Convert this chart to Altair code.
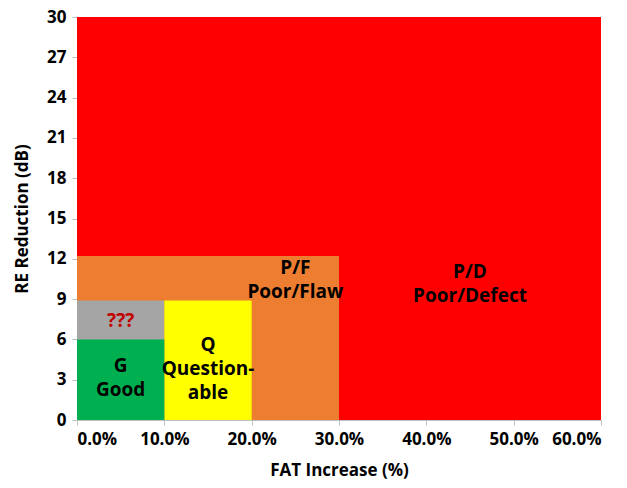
import altair as alt
import pandas as pd

zones = ["P/D", "P/F", "???", "Q", "G"]
x_start = [0, 0, 0, 10, 0]
x_end = [60, 30, 10, 20, 10]
y_start = [0, 0, 0, 0, 0]
y_end = [30, 12.2, 8.9, 8.9, 6]
colors = ["#FF0000", "#ED7D31", "#A5A5A5", "#FFFF00", "#00B050"]

label_text = ["P/D\nPoor/Defect", "P/F\nPoor/Flaw", "???", "Q\nQuestion-\nable", "G\nGood"]
label_x = [45, 25, 5, 15, 5]
label_y = [11.0, 11.3, 7.4, 5.6, 4.0]
label_color = ["#000000", "#000000", "#C00000", "#000000", "#000000"]

rects = pd.DataFrame({"zone": zones, "x": x_start, "x2": x_end, "y": y_start, "y2": y_end, "color": colors})
labels = pd.DataFrame({"text": label_text, "x": label_x, "y": label_y, "color": label_color})

FONT = "Open Sans"

xscale = alt.Scale(domain=[0, 60], nice=False)
yscale = alt.Scale(domain=[0, 30], nice=False)

base_rect = alt.Chart(rects).mark_rect().encode(
    x=alt.X("x:Q", scale=xscale, title="FAT Increase (%)",
            axis=alt.Axis(values=[0, 10, 20, 30, 40, 50, 60], labelExpr="format(datum.value/100, '.1%')",
                          titlePadding=15)),
    x2="x2:Q",
    y=alt.Y("y:Q", scale=yscale, title="RE Reduction (dB)",
            axis=alt.Axis(values=list(range(0, 31, 3)), titlePadding=15)),
    y2="y2:Q",
    color=alt.Color("color:N", scale=None),
)

text = alt.Chart(labels).mark_text(
    fontSize=19, fontWeight="bold", font=FONT, lineHeight=24, baseline="middle", align="center",
    lineBreak="\n"
).encode(
    x=alt.X("x:Q", scale=xscale),
    y=alt.Y("y:Q", scale=yscale),
    text="text:N",
    color=alt.Color("color:N", scale=None),
)

chart = alt.layer(base_rect, text).properties(
    width=524, height=403,
    autosize=alt.AutoSizeParams(type="none"),
    padding={"left": 69, "top": 9, "right": 10, "bottom": 60},
).configure_axis(
    grid=False,
    domainColor="#BFBFBF",
    tickColor="#BFBFBF",
    tickSize=5,
    labelFont=FONT,
    labelFontSize=17,
    labelFontWeight="bold",
    labelColor="#000000",
    titleFont=FONT,
    titleFontSize=17,
    titleFontWeight="bold",
    titleColor="#000000",
    labelPadding=6,
).configure_view(stroke=None)

chart.save("out.html", embed_options={"renderer": "svg", "actions": False})
